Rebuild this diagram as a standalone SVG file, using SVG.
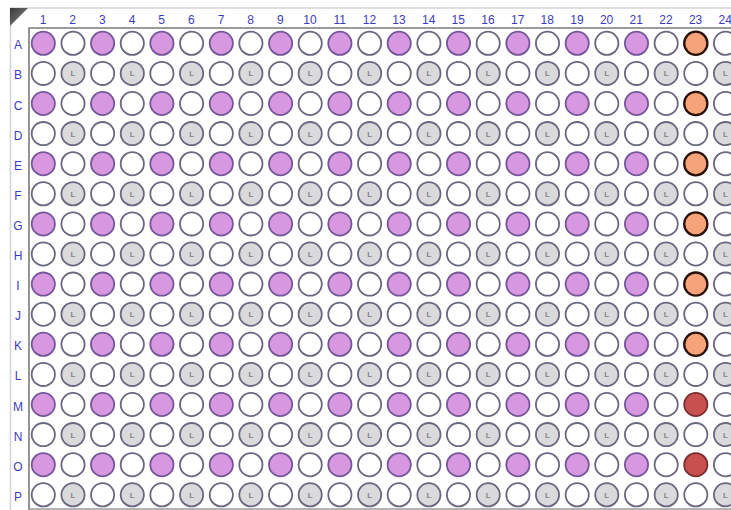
<svg xmlns="http://www.w3.org/2000/svg" xmlns:xlink="http://www.w3.org/1999/xlink" width="731" height="510" viewBox="0 0 731 510">
<style>
.lab{font-family:"Liberation Sans",Arial,sans-serif;font-size:12px;fill:#3c3cbe;text-anchor:middle}
.w{fill:#ffffff;stroke:#68687f;stroke-width:1.8}
.pu{fill:#d898e0;stroke:#74569a;stroke-width:1.8}
.gl{fill:#dadadd;stroke:#68687f;stroke-width:1.8}
.or{fill:#f6a37a;stroke:#2a1208;stroke-width:2.3}
.rd{fill:#c8504f;stroke:#7a2e30;stroke-width:1.8}
.lt{font-family:"Liberation Sans",Arial,sans-serif;font-size:8px;font-weight:bold;fill:#858585;text-anchor:middle}
</style>
<defs>
<g id="W"><circle r="11.6" class="w"/></g>
<g id="P"><circle r="11.6" class="pu"/></g>
<g id="L"><circle r="11.6" class="gl"/><text class="lt" y="3">L</text></g>
<g id="O"><circle r="11.6" class="or"/></g>
<g id="R"><circle r="11.6" class="rd"/></g>
<linearGradient id="tg" x1="0" y1="0" x2="1" y2="1"><stop offset="0" stop-color="#3a3a3a"/><stop offset="1" stop-color="#8a8a8a"/></linearGradient>
</defs>
<rect x="0" y="0" width="731" height="510" fill="#ffffff"/>
<g id="frame">
<line x1="10.5" y1="8" x2="10.5" y2="510" stroke="#d4d4d8" stroke-width="1.5"/>
<line x1="10" y1="8" x2="731" y2="8" stroke="#d4d4d8" stroke-width="1.5"/>
<polygon points="10,8 28,8 10,26" fill="url(#tg)"/>
<line x1="29" y1="28" x2="29" y2="510" stroke="#7a7a7a" stroke-width="1.6"/>
<line x1="28.5" y1="28" x2="731" y2="28" stroke="#7a7a7a" stroke-width="1.6"/>
<line x1="28" y1="509" x2="731" y2="509" stroke="#9a9a9a" stroke-width="1.5"/>
</g>
<g id="colLabels" class="lab">
<text x="43" y="24">1</text><text x="72.7" y="24">2</text><text x="102.4" y="24">3</text><text x="132.1" y="24">4</text><text x="161.7" y="24">5</text><text x="191.4" y="24">6</text><text x="221.1" y="24">7</text><text x="250.7" y="24">8</text><text x="280.4" y="24">9</text><text x="310" y="24">10</text><text x="339.7" y="24">11</text><text x="369.4" y="24">12</text><text x="399" y="24">13</text><text x="428.7" y="24">14</text><text x="458.3" y="24">15</text><text x="488" y="24">16</text><text x="517.7" y="24">17</text><text x="547.3" y="24">18</text><text x="577" y="24">19</text><text x="606.6" y="24">20</text><text x="636.3" y="24">21</text><text x="666" y="24">22</text><text x="695.6" y="24">23</text><text x="725.3" y="24">24</text>
</g>
<g id="rowLabels" class="lab">
<text x="18" y="49.3">A</text><text x="18" y="79.4">B</text><text x="18" y="109.5">C</text><text x="18" y="139.6">D</text><text x="18" y="169.7">E</text><text x="18" y="199.8">F</text><text x="18" y="229.9">G</text><text x="18" y="260">H</text><text x="18" y="290.1">I</text><text x="18" y="320.2">J</text><text x="18" y="350.3">K</text><text x="18" y="380.4">L</text><text x="18" y="410.5">M</text><text x="18" y="440.6">N</text><text x="18" y="470.7">O</text><text x="18" y="500.8">P</text>
</g>
<g id="rowA" transform="translate(0,43.3)"><use href="#P" x="43.3"/><use href="#W" x="73"/><use href="#P" x="102.6"/><use href="#W" x="132.3"/><use href="#P" x="161.9"/><use href="#W" x="191.6"/><use href="#P" x="221.3"/><use href="#W" x="250.9"/><use href="#P" x="280.6"/><use href="#W" x="310.2"/><use href="#P" x="339.9"/><use href="#W" x="369.6"/><use href="#P" x="399.2"/><use href="#W" x="428.9"/><use href="#P" x="458.5"/><use href="#W" x="488.2"/><use href="#P" x="517.9"/><use href="#W" x="547.5"/><use href="#P" x="577.2"/><use href="#W" x="606.8"/><use href="#P" x="636.5"/><use href="#W" x="666.2"/><use href="#O" x="695.8"/><use href="#W" x="725.5"/></g>
<g id="rowB" transform="translate(0,73.4)"><use href="#W" x="43.3"/><use href="#L" x="73"/><use href="#W" x="102.6"/><use href="#L" x="132.3"/><use href="#W" x="161.9"/><use href="#L" x="191.6"/><use href="#W" x="221.3"/><use href="#L" x="250.9"/><use href="#W" x="280.6"/><use href="#L" x="310.2"/><use href="#W" x="339.9"/><use href="#L" x="369.6"/><use href="#W" x="399.2"/><use href="#L" x="428.9"/><use href="#W" x="458.5"/><use href="#L" x="488.2"/><use href="#W" x="517.9"/><use href="#L" x="547.5"/><use href="#W" x="577.2"/><use href="#L" x="606.8"/><use href="#W" x="636.5"/><use href="#L" x="666.2"/><use href="#W" x="695.8"/><use href="#L" x="725.5"/></g>
<g id="rowC" transform="translate(0,103.5)"><use href="#P" x="43.3"/><use href="#W" x="73"/><use href="#P" x="102.6"/><use href="#W" x="132.3"/><use href="#P" x="161.9"/><use href="#W" x="191.6"/><use href="#P" x="221.3"/><use href="#W" x="250.9"/><use href="#P" x="280.6"/><use href="#W" x="310.2"/><use href="#P" x="339.9"/><use href="#W" x="369.6"/><use href="#P" x="399.2"/><use href="#W" x="428.9"/><use href="#P" x="458.5"/><use href="#W" x="488.2"/><use href="#P" x="517.9"/><use href="#W" x="547.5"/><use href="#P" x="577.2"/><use href="#W" x="606.8"/><use href="#P" x="636.5"/><use href="#W" x="666.2"/><use href="#O" x="695.8"/><use href="#W" x="725.5"/></g>
<g id="rowD" transform="translate(0,133.6)"><use href="#W" x="43.3"/><use href="#L" x="73"/><use href="#W" x="102.6"/><use href="#L" x="132.3"/><use href="#W" x="161.9"/><use href="#L" x="191.6"/><use href="#W" x="221.3"/><use href="#L" x="250.9"/><use href="#W" x="280.6"/><use href="#L" x="310.2"/><use href="#W" x="339.9"/><use href="#L" x="369.6"/><use href="#W" x="399.2"/><use href="#L" x="428.9"/><use href="#W" x="458.5"/><use href="#L" x="488.2"/><use href="#W" x="517.9"/><use href="#L" x="547.5"/><use href="#W" x="577.2"/><use href="#L" x="606.8"/><use href="#W" x="636.5"/><use href="#L" x="666.2"/><use href="#W" x="695.8"/><use href="#L" x="725.5"/></g>
<g id="rowE" transform="translate(0,163.7)"><use href="#P" x="43.3"/><use href="#W" x="73"/><use href="#P" x="102.6"/><use href="#W" x="132.3"/><use href="#P" x="161.9"/><use href="#W" x="191.6"/><use href="#P" x="221.3"/><use href="#W" x="250.9"/><use href="#P" x="280.6"/><use href="#W" x="310.2"/><use href="#P" x="339.9"/><use href="#W" x="369.6"/><use href="#P" x="399.2"/><use href="#W" x="428.9"/><use href="#P" x="458.5"/><use href="#W" x="488.2"/><use href="#P" x="517.9"/><use href="#W" x="547.5"/><use href="#P" x="577.2"/><use href="#W" x="606.8"/><use href="#P" x="636.5"/><use href="#W" x="666.2"/><use href="#O" x="695.8"/><use href="#W" x="725.5"/></g>
<g id="rowF" transform="translate(0,193.8)"><use href="#W" x="43.3"/><use href="#L" x="73"/><use href="#W" x="102.6"/><use href="#L" x="132.3"/><use href="#W" x="161.9"/><use href="#L" x="191.6"/><use href="#W" x="221.3"/><use href="#L" x="250.9"/><use href="#W" x="280.6"/><use href="#L" x="310.2"/><use href="#W" x="339.9"/><use href="#L" x="369.6"/><use href="#W" x="399.2"/><use href="#L" x="428.9"/><use href="#W" x="458.5"/><use href="#L" x="488.2"/><use href="#W" x="517.9"/><use href="#L" x="547.5"/><use href="#W" x="577.2"/><use href="#L" x="606.8"/><use href="#W" x="636.5"/><use href="#L" x="666.2"/><use href="#W" x="695.8"/><use href="#L" x="725.5"/></g>
<g id="rowG" transform="translate(0,223.9)"><use href="#P" x="43.3"/><use href="#W" x="73"/><use href="#P" x="102.6"/><use href="#W" x="132.3"/><use href="#P" x="161.9"/><use href="#W" x="191.6"/><use href="#P" x="221.3"/><use href="#W" x="250.9"/><use href="#P" x="280.6"/><use href="#W" x="310.2"/><use href="#P" x="339.9"/><use href="#W" x="369.6"/><use href="#P" x="399.2"/><use href="#W" x="428.9"/><use href="#P" x="458.5"/><use href="#W" x="488.2"/><use href="#P" x="517.9"/><use href="#W" x="547.5"/><use href="#P" x="577.2"/><use href="#W" x="606.8"/><use href="#P" x="636.5"/><use href="#W" x="666.2"/><use href="#O" x="695.8"/><use href="#W" x="725.5"/></g>
<g id="rowH" transform="translate(0,254)"><use href="#W" x="43.3"/><use href="#L" x="73"/><use href="#W" x="102.6"/><use href="#L" x="132.3"/><use href="#W" x="161.9"/><use href="#L" x="191.6"/><use href="#W" x="221.3"/><use href="#L" x="250.9"/><use href="#W" x="280.6"/><use href="#L" x="310.2"/><use href="#W" x="339.9"/><use href="#L" x="369.6"/><use href="#W" x="399.2"/><use href="#L" x="428.9"/><use href="#W" x="458.5"/><use href="#L" x="488.2"/><use href="#W" x="517.9"/><use href="#L" x="547.5"/><use href="#W" x="577.2"/><use href="#L" x="606.8"/><use href="#W" x="636.5"/><use href="#L" x="666.2"/><use href="#W" x="695.8"/><use href="#L" x="725.5"/></g>
<g id="rowI" transform="translate(0,284.1)"><use href="#P" x="43.3"/><use href="#W" x="73"/><use href="#P" x="102.6"/><use href="#W" x="132.3"/><use href="#P" x="161.9"/><use href="#W" x="191.6"/><use href="#P" x="221.3"/><use href="#W" x="250.9"/><use href="#P" x="280.6"/><use href="#W" x="310.2"/><use href="#P" x="339.9"/><use href="#W" x="369.6"/><use href="#P" x="399.2"/><use href="#W" x="428.9"/><use href="#P" x="458.5"/><use href="#W" x="488.2"/><use href="#P" x="517.9"/><use href="#W" x="547.5"/><use href="#P" x="577.2"/><use href="#W" x="606.8"/><use href="#P" x="636.5"/><use href="#W" x="666.2"/><use href="#O" x="695.8"/><use href="#W" x="725.5"/></g>
<g id="rowJ" transform="translate(0,314.2)"><use href="#W" x="43.3"/><use href="#L" x="73"/><use href="#W" x="102.6"/><use href="#L" x="132.3"/><use href="#W" x="161.9"/><use href="#L" x="191.6"/><use href="#W" x="221.3"/><use href="#L" x="250.9"/><use href="#W" x="280.6"/><use href="#L" x="310.2"/><use href="#W" x="339.9"/><use href="#L" x="369.6"/><use href="#W" x="399.2"/><use href="#L" x="428.9"/><use href="#W" x="458.5"/><use href="#L" x="488.2"/><use href="#W" x="517.9"/><use href="#L" x="547.5"/><use href="#W" x="577.2"/><use href="#L" x="606.8"/><use href="#W" x="636.5"/><use href="#L" x="666.2"/><use href="#W" x="695.8"/><use href="#L" x="725.5"/></g>
<g id="rowK" transform="translate(0,344.3)"><use href="#P" x="43.3"/><use href="#W" x="73"/><use href="#P" x="102.6"/><use href="#W" x="132.3"/><use href="#P" x="161.9"/><use href="#W" x="191.6"/><use href="#P" x="221.3"/><use href="#W" x="250.9"/><use href="#P" x="280.6"/><use href="#W" x="310.2"/><use href="#P" x="339.9"/><use href="#W" x="369.6"/><use href="#P" x="399.2"/><use href="#W" x="428.9"/><use href="#P" x="458.5"/><use href="#W" x="488.2"/><use href="#P" x="517.9"/><use href="#W" x="547.5"/><use href="#P" x="577.2"/><use href="#W" x="606.8"/><use href="#P" x="636.5"/><use href="#W" x="666.2"/><use href="#O" x="695.8"/><use href="#W" x="725.5"/></g>
<g id="rowL" transform="translate(0,374.4)"><use href="#W" x="43.3"/><use href="#L" x="73"/><use href="#W" x="102.6"/><use href="#L" x="132.3"/><use href="#W" x="161.9"/><use href="#L" x="191.6"/><use href="#W" x="221.3"/><use href="#L" x="250.9"/><use href="#W" x="280.6"/><use href="#L" x="310.2"/><use href="#W" x="339.9"/><use href="#L" x="369.6"/><use href="#W" x="399.2"/><use href="#L" x="428.9"/><use href="#W" x="458.5"/><use href="#L" x="488.2"/><use href="#W" x="517.9"/><use href="#L" x="547.5"/><use href="#W" x="577.2"/><use href="#L" x="606.8"/><use href="#W" x="636.5"/><use href="#L" x="666.2"/><use href="#W" x="695.8"/><use href="#L" x="725.5"/></g>
<g id="rowM" transform="translate(0,404.5)"><use href="#P" x="43.3"/><use href="#W" x="73"/><use href="#P" x="102.6"/><use href="#W" x="132.3"/><use href="#P" x="161.9"/><use href="#W" x="191.6"/><use href="#P" x="221.3"/><use href="#W" x="250.9"/><use href="#P" x="280.6"/><use href="#W" x="310.2"/><use href="#P" x="339.9"/><use href="#W" x="369.6"/><use href="#P" x="399.2"/><use href="#W" x="428.9"/><use href="#P" x="458.5"/><use href="#W" x="488.2"/><use href="#P" x="517.9"/><use href="#W" x="547.5"/><use href="#P" x="577.2"/><use href="#W" x="606.8"/><use href="#P" x="636.5"/><use href="#W" x="666.2"/><use href="#R" x="695.8"/><use href="#W" x="725.5"/></g>
<g id="rowN" transform="translate(0,434.6)"><use href="#W" x="43.3"/><use href="#L" x="73"/><use href="#W" x="102.6"/><use href="#L" x="132.3"/><use href="#W" x="161.9"/><use href="#L" x="191.6"/><use href="#W" x="221.3"/><use href="#L" x="250.9"/><use href="#W" x="280.6"/><use href="#L" x="310.2"/><use href="#W" x="339.9"/><use href="#L" x="369.6"/><use href="#W" x="399.2"/><use href="#L" x="428.9"/><use href="#W" x="458.5"/><use href="#L" x="488.2"/><use href="#W" x="517.9"/><use href="#L" x="547.5"/><use href="#W" x="577.2"/><use href="#L" x="606.8"/><use href="#W" x="636.5"/><use href="#L" x="666.2"/><use href="#W" x="695.8"/><use href="#L" x="725.5"/></g>
<g id="rowO" transform="translate(0,464.7)"><use href="#P" x="43.3"/><use href="#W" x="73"/><use href="#P" x="102.6"/><use href="#W" x="132.3"/><use href="#P" x="161.9"/><use href="#W" x="191.6"/><use href="#P" x="221.3"/><use href="#W" x="250.9"/><use href="#P" x="280.6"/><use href="#W" x="310.2"/><use href="#P" x="339.9"/><use href="#W" x="369.6"/><use href="#P" x="399.2"/><use href="#W" x="428.9"/><use href="#P" x="458.5"/><use href="#W" x="488.2"/><use href="#P" x="517.9"/><use href="#W" x="547.5"/><use href="#P" x="577.2"/><use href="#W" x="606.8"/><use href="#P" x="636.5"/><use href="#W" x="666.2"/><use href="#R" x="695.8"/><use href="#W" x="725.5"/></g>
<g id="rowP" transform="translate(0,494.8)"><use href="#W" x="43.3"/><use href="#L" x="73"/><use href="#W" x="102.6"/><use href="#L" x="132.3"/><use href="#W" x="161.9"/><use href="#L" x="191.6"/><use href="#W" x="221.3"/><use href="#L" x="250.9"/><use href="#W" x="280.6"/><use href="#L" x="310.2"/><use href="#W" x="339.9"/><use href="#L" x="369.6"/><use href="#W" x="399.2"/><use href="#L" x="428.9"/><use href="#W" x="458.5"/><use href="#L" x="488.2"/><use href="#W" x="517.9"/><use href="#L" x="547.5"/><use href="#W" x="577.2"/><use href="#L" x="606.8"/><use href="#W" x="636.5"/><use href="#L" x="666.2"/><use href="#W" x="695.8"/><use href="#L" x="725.5"/></g>
</svg>
